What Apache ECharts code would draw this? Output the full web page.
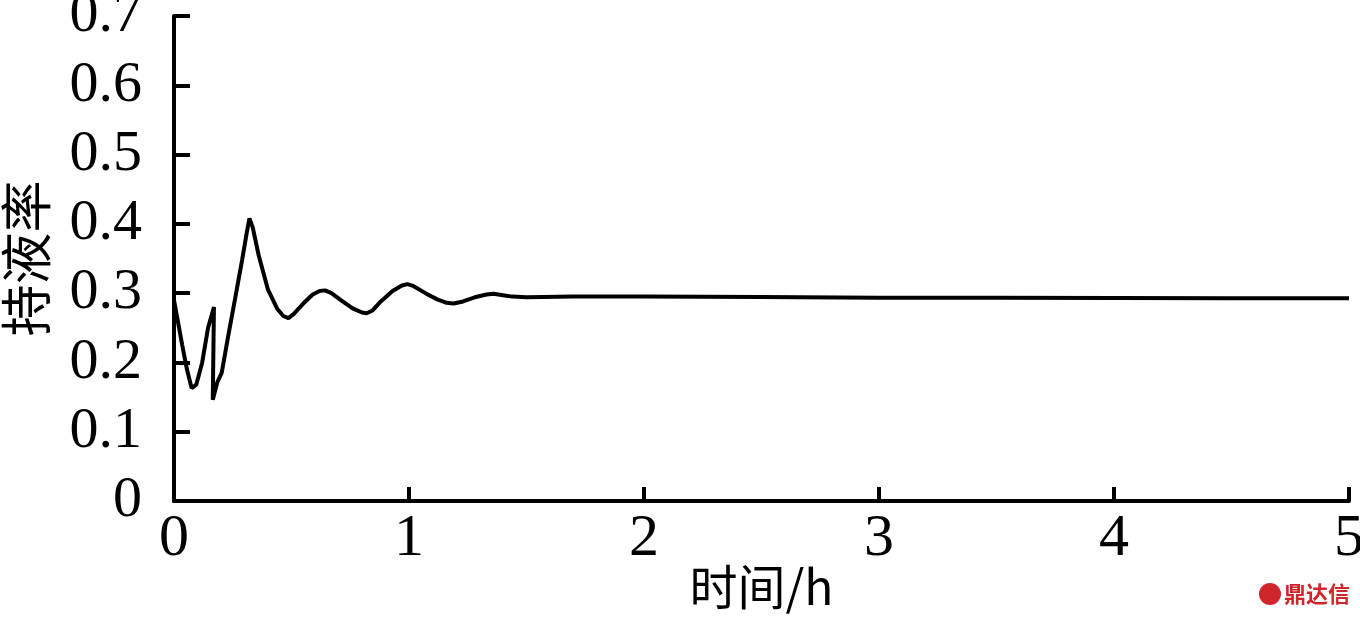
<!DOCTYPE html>
<html>
<head>
<meta charset="utf-8">
<script src="https://cdn.jsdelivr.net/npm/echarts@6/dist/echarts.min.js"></script>
<style>
html,body{margin:0;padding:0;background:#fff;}
#chart{width:1360px;height:617px;}
</style>
</head>
<body>
<div id="chart"></div>
<script>
// time in hours
const timeH = [0, 0.015, 0.035, 0.055, 0.075, 0.095, 0.12, 0.145, 0.17, 0.165, 0.185, 0.203,
  0.23, 0.26, 0.29, 0.31, 0.321, 0.335, 0.36, 0.40, 0.44, 0.465, 0.487, 0.51, 0.55, 0.59,
  0.62, 0.643, 0.67, 0.71, 0.76, 0.80, 0.82, 0.845, 0.88, 0.93, 0.97, 0.993, 1.02, 1.07,
  1.12, 1.16, 1.19, 1.23, 1.28, 1.33, 1.36, 1.40, 1.44, 1.5, 1.7, 2.0, 2.5, 3.0, 3.5, 4.0, 4.5, 5.0];
// liquid holdup
const holdup = [0.290, 0.262, 0.225, 0.190, 0.163, 0.168, 0.200, 0.250, 0.280, 0.146, 0.172, 0.185,
  0.237, 0.292, 0.348, 0.388, 0.408, 0.395, 0.355, 0.305, 0.277, 0.267, 0.264, 0.270, 0.285, 0.298,
  0.303, 0.304, 0.300, 0.290, 0.278, 0.272, 0.271, 0.275, 0.288, 0.303, 0.311, 0.313, 0.310, 0.300,
  0.291, 0.286, 0.285, 0.288, 0.294, 0.298, 0.299, 0.297, 0.295, 0.294, 0.295, 0.295, 0.2945, 0.2935, 0.2935, 0.293, 0.2925, 0.2925];
const xName = '时间/h';
const yName = '持液率';
const watermark = '鼎达信';

const data = timeH.map((t, i) => [t, holdup[i]]);
const serif = '"Liberation Serif", "Times New Roman", serif';
const cjk = '"Noto Sans CJK SC", sans-serif';

const chart = echarts.init(document.getElementById('chart'));
chart.setOption({
  animation: false,
  backgroundColor: '#fff',
  grid: {left: 174, right: 11, top: 16, bottom: 116, containLabel: false, outerBoundsMode: 'none'},
  xAxis: {
    type: 'value', min: 0, max: 5, interval: 1,
    name: xName, nameLocation: 'middle', nameGap: 62, nameMoveOverlap: false,
    nameTextStyle: {fontFamily: cjk, fontSize: 48, color: '#000'},
    axisLine: {show: true, onZero: false, lineStyle: {color: '#000', width: 4}},
    axisTick: {show: true, inside: true, length: 14, lineStyle: {color: '#000', width: 4}},
    axisLabel: {fontFamily: serif, fontSize: 60, color: '#000', margin: 8},
    splitLine: {show: false}
  },
  yAxis: {
    type: 'value', min: 0, max: 0.7, interval: 0.1,
    name: yName, nameLocation: 'middle', nameGap: 122, nameRotate: 90, nameMoveOverlap: false,
    nameTextStyle: {fontFamily: cjk, fontSize: 52, color: '#000'},
    axisLine: {show: true, onZero: false, lineStyle: {color: '#000', width: 4}},
    axisTick: {show: true, inside: true, length: 16, lineStyle: {color: '#000', width: 4}},
    axisLabel: {fontFamily: serif, fontSize: 58, color: '#000', margin: 32,
      formatter: v => (Math.round(v * 10) / 10).toString()},
    splitLine: {show: false}
  },
  series: [{
    type: 'line', data: data, showSymbol: false, smooth: false,
    lineStyle: {color: '#000', width: 4}
  }],
  graphic: [
    {type: 'circle', shape: {cx: 1270, cy: 594, r: 11}, style: {fill: '#d0262b'}},
    {type: 'text', x: 1284, y: 594, style: {text: watermark, fontFamily: cjk, fontWeight: 'bold',
      fontSize: 22, fill: '#d0262b', verticalAlign: 'middle'}}
  ]
});
</script>
</body>
</html>
